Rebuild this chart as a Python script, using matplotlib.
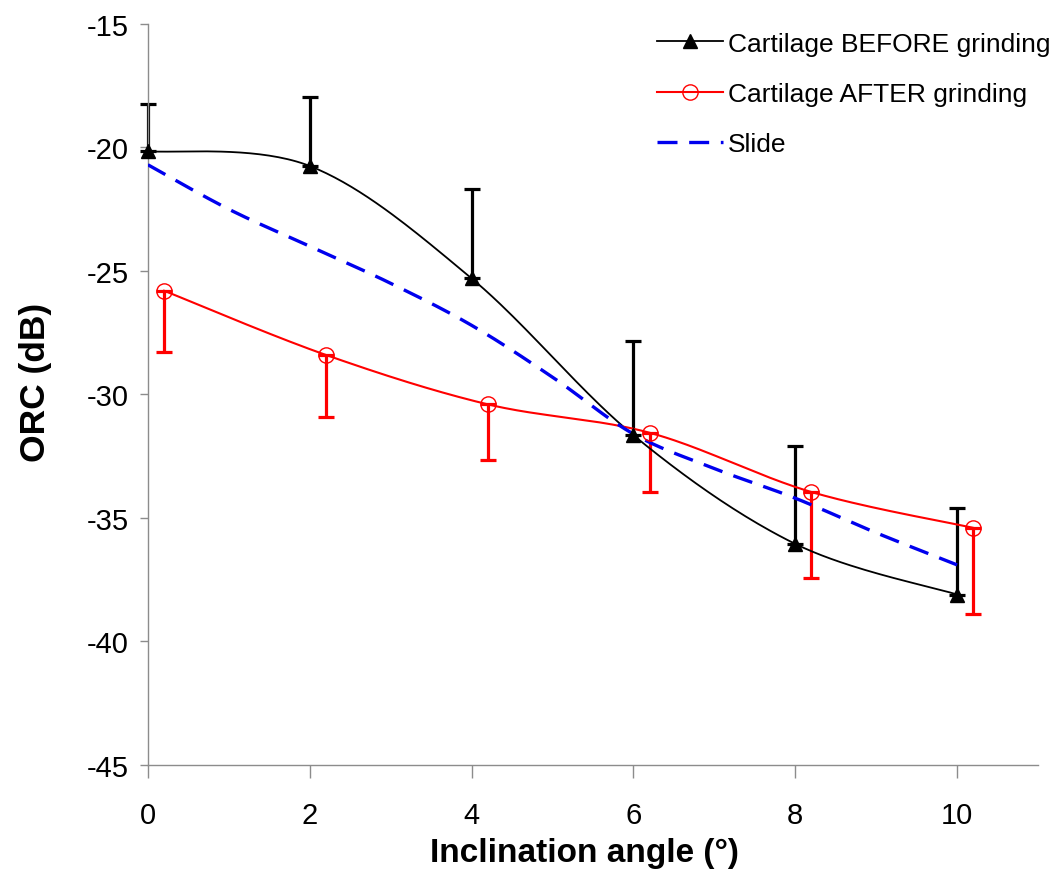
import numpy as np
import matplotlib
matplotlib.use("Agg")
import matplotlib.pyplot as plt

plt.rcParams['font.family'] = ['Liberation Sans', 'DejaVu Sans']
plt.rcParams['axes.unicode_minus'] = False

# data
angle_before = [0, 2, 4, 6, 8, 10]
orc_before = [-20.15, -20.75, -25.3, -31.65, -36.05, -38.1]
err_before = [1.9, 2.8, 3.6, 3.8, 3.95, 3.5]

angle_after = [0.2, 2.2, 4.2, 6.2, 8.2, 10.2]
orc_after = [-25.8, -28.4, -30.4, -31.55, -33.95, -35.4]
err_after = [2.5, 2.5, 2.25, 2.4, 3.5, 3.5]

angle_slide = [0, 1, 2, 3, 4, 5, 6, 7, 8, 9, 10]
orc_slide = [-20.7, -22.5, -24.0, -25.5, -27.2, -29.3, -31.6, -33.0, -34.2, -35.6, -36.9]

labels = ['Cartilage BEFORE grinding', 'Cartilage AFTER grinding', 'Slide']


def smooth(x, y, n=40):
    # excel style smoothed line: bezier segments, catmull-rom control points
    x = np.asarray(x, float)
    y = np.asarray(y, float)
    px = np.concatenate([[x[0]], x, [x[-1]]])
    py = np.concatenate([[y[0]], y, [y[-1]]])
    t = np.linspace(0, 1, n)[:, None]
    xs, ys = [], []
    for i in range(1, len(px) - 2):
        p0 = np.array([px[i], py[i]])
        p3 = np.array([px[i + 1], py[i + 1]])
        c1 = p0 + (np.array([px[i + 1], py[i + 1]]) - np.array([px[i - 1], py[i - 1]])) / 6
        c2 = p3 - (np.array([px[i + 2], py[i + 2]]) - np.array([px[i], py[i]])) / 6
        b = ((1 - t) ** 3) * p0 + 3 * ((1 - t) ** 2) * t * c1 + 3 * (1 - t) * t ** 2 * c2 + t ** 3 * p3
        xs.append(b[:, 0])
        ys.append(b[:, 1])
    return np.concatenate(xs), np.concatenate(ys)


fig = plt.figure(figsize=(10.64, 8.79), dpi=100)
ax = fig.add_axes([0.139, 0.1286, 0.8366, 0.843])

# error bars (one sided)
eb1 = ax.errorbar(angle_before, orc_before, yerr=[np.zeros(6), err_before], fmt='none',
                  ecolor='black', elinewidth=2.3, capsize=5.5, capthick=2.3, zorder=2)
eb2 = ax.errorbar(angle_after, orc_after, yerr=[err_after, np.zeros(6)], fmt='none',
                  ecolor='#ff0000', elinewidth=2.3, capsize=5.5, capthick=2.3, zorder=2)
for eb in (eb1, eb2):
    for art in eb.lines[1] + eb.lines[2]:
        art.set_clip_on(False)

sx, sy = smooth(angle_before, orc_before)
ax.plot(sx, sy, color='black', lw=1.3, zorder=3)
ax.plot(angle_before, orc_before, ls='none', marker='^', ms=10.5, color='black',
        zorder=4, clip_on=False)
h1, = ax.plot([], [], color='black', lw=1.3, marker='^', ms=10.5)

sx, sy = smooth(angle_after, orc_after)
ax.plot(sx, sy, color='#ff0000', lw=1.5, zorder=3)
ax.plot(angle_after, orc_after, ls='none', marker='o', ms=11, mfc='none',
        mec='#ff0000', mew=1.0, zorder=4)
h2, = ax.plot([], [], color='#ff0000', lw=1.5, marker='o', ms=11, mfc='none', mec='#ff0000', mew=1.0)

sx, sy = smooth(angle_slide, orc_slide)
h3, = ax.plot(sx, sy, color='#0000ee', lw=2.4, ls=(0, (6, 3.5)), zorder=3)

ax.set_xlim(0, 11)
ax.set_ylim(-45, -15)
ax.set_xticks([0, 2, 4, 6, 8, 10])
ax.set_yticks([-45, -40, -35, -30, -25, -20, -15])

for s in ['top', 'right']:
    ax.spines[s].set_visible(False)
for s in ['left', 'bottom']:
    ax.spines[s].set_color('#8c8c8c')
    ax.spines[s].set_linewidth(1.0)
ax.tick_params(axis='both', colors='#8c8c8c', labelcolor='black', labelsize=21, width=1.0)
ax.tick_params(axis='x', length=9, pad=17)
ax.tick_params(axis='y', length=6, pad=8)

ax.set_xlabel('Inclination angle (°)', fontsize=24, fontweight='bold')
ax.set_ylabel('ORC (dB)', fontsize=25.5, fontweight='bold')
ax.xaxis.set_label_coords(0.49, -0.097)
ax.yaxis.set_label_coords(-0.108, 0.518)

fig.legend([h1, h2, h3], labels, loc='upper left', bbox_to_anchor=(0.595, 0.99),
           frameon=False, fontsize=19, handlelength=2.5, handletextpad=0.2,
           labelspacing=1.0)

fig.savefig('out.png', dpi=100)
